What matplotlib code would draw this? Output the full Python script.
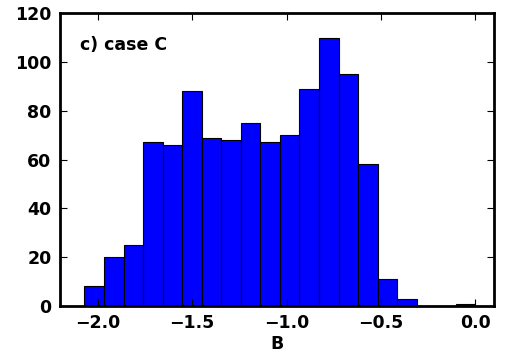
import matplotlib
matplotlib.use("Agg")
import matplotlib.pyplot as plt
import numpy as np

# histogram of B, 20 equal bins between the sample min and max
b_min, b_max = -2.07, 0.0
counts = [8, 20, 25, 67, 66, 88, 69, 68, 75, 67,
          70, 89, 110, 95, 58, 11, 3, 0, 0, 1]
x_ticks = [-2.0, -1.5, -1.0, -0.5, 0.0]
y_ticks = [0, 20, 40, 60, 80, 100, 120]
panel_label = "c) case C"

plt.rcParams["font.weight"] = "bold"
plt.rcParams["font.size"] = 12.5

edges = np.linspace(b_min, b_max, len(counts) + 1)

fig = plt.figure(figsize=(5.08, 3.55), dpi=100)
ax = fig.add_axes([0.118, 0.138, 0.855, 0.825])
ax.bar(edges[:-1], counts, width=np.diff(edges), align="edge",
       color="#0000ff", edgecolor="black", linewidth=0.8)

ax.set_xlim(-2.2, 0.1)
ax.set_ylim(0, 120)
ax.set_xticks(x_ticks)
ax.set_xticklabels([f"{t:.1f}".replace("-", "\u2212") for t in x_ticks])
ax.set_yticks(y_ticks)
ax.tick_params(direction="in", top=True, right=True, length=5, width=0.8, pad=6)
for s in ax.spines.values():
    s.set_linewidth(2)

ax.set_xlabel("B", fontweight="bold", labelpad=2)
ax.text(0.046, 0.89, panel_label, transform=ax.transAxes,
        fontweight="bold", va="center", ha="left")

fig.savefig("out.png", dpi=100)
